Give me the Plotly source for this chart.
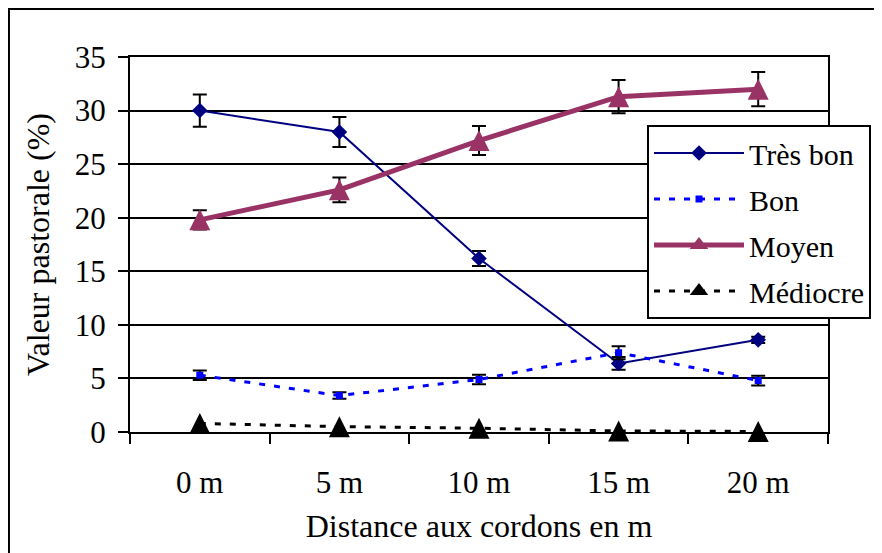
import plotly.graph_objects as go

categories = ["0 m", "5 m", "10 m", "15 m", "20 m"]

tres_bon = [30.0, 28.0, 16.2, 6.4, 8.6]
tres_bon_err = [1.5, 1.4, 0.7, 0.6, 0.3]

bon = [5.3, 3.4, 4.9, 7.4, 4.8]
bon_err = [0.45, 0.3, 0.45, 0.6, 0.45]

moyen = [19.8, 22.6, 27.2, 31.3, 32.0]
moyen_err = [0.9, 1.15, 1.35, 1.55, 1.6]

mediocre = [0.8, 0.5, 0.35, 0.1, 0.05]

y_ticks = [0, 5, 10, 15, 20, 25, 30, 35]

FONT = "Liberation Serif, Times New Roman, serif"
err_style = dict(type="data", color="black", thickness=2, width=7)

TB_COL = "#000080"
BON_COL = "#0000FF"
MOY_COL = "#993366"
MED_COL = "black"

TRI = 21

fig = go.Figure()
fig.add_trace(go.Scatter(
    x=categories, y=tres_bon, name="Très bon", mode="lines+markers",
    legendgroup="a", cliponaxis=False,
    line=dict(color=TB_COL, width=2),
    marker=dict(symbol="diamond", size=12, color=TB_COL),
    error_y=dict(array=tres_bon_err, **err_style),
))
fig.add_trace(go.Scatter(
    x=categories, y=bon, name="Bon", mode="lines+markers",
    legendgroup="b", cliponaxis=False,
    line=dict(color=BON_COL, width=3, dash="6px,9px"),
    marker=dict(symbol="square", size=7, color=BON_COL),
    error_y=dict(array=bon_err, **err_style),
))
fig.add_trace(go.Scatter(
    x=categories, y=moyen, name="Moyen", mode="lines+markers",
    legendgroup="c", showlegend=False, cliponaxis=False,
    line=dict(color=MOY_COL, width=5),
    marker=dict(symbol="arrow-down", angle=180, standoff=TRI / 2, size=TRI, color=MOY_COL),
    error_y=dict(array=moyen_err, **err_style),
))
fig.add_trace(go.Scatter(
    x=[None], y=[None], name="Moyen", mode="lines+markers",
    legendgroup="c", showlegend=True,
    line=dict(color=MOY_COL, width=5),
    marker=dict(symbol="triangle-up", size=18, color=MOY_COL),
))
fig.add_trace(go.Scatter(
    x=categories, y=mediocre, name="Médiocre", mode="lines+markers",
    legendgroup="d", showlegend=False, cliponaxis=False,
    line=dict(color=MED_COL, width=3, dash="6px,9px"),
    marker=dict(symbol="arrow-down", angle=180, standoff=TRI / 2, size=TRI, color=MED_COL),
))
fig.add_trace(go.Scatter(
    x=[None], y=[None], name="Médiocre", mode="lines+markers",
    legendgroup="d", showlegend=True,
    line=dict(color=MED_COL, width=3, dash="6px,9px"),
    marker=dict(symbol="triangle-up", size=18, color=MED_COL),
))

fig.update_layout(
    width=874, height=545,
    margin=dict(l=122, r=54, t=49, b=121, autoexpand=False),
    paper_bgcolor="white", plot_bgcolor="white",
    font=dict(family=FONT, size=31, color="black"),
    showlegend=True,
    legend=dict(
        x=0.7407, y=0.8187, xanchor="left", yanchor="top",
        bgcolor="white", bordercolor="black", borderwidth=2,
        font=dict(family=FONT, size=30, color="black"),
        itemwidth=90, tracegroupgap=4, traceorder="grouped",
    ),
    xaxis=dict(
        type="category", range=[-0.5, 4.5], showgrid=False, automargin=False,
        showline=True, linecolor="black", linewidth=2, mirror=True,
        ticks="outside", tickson="boundaries", ticklen=10, tickwidth=2, tickcolor="black",
        ticklabelstandoff=22,
        title=dict(text="Distance aux cordons en m", font=dict(family=FONT, size=32), standoff=15),
    ),
    yaxis=dict(
        range=[0, 35], tickvals=y_ticks, showgrid=True, gridcolor="black", gridwidth=2,
        zeroline=False, automargin=False,
        showline=True, linecolor="black", linewidth=2, mirror=True,
        ticks="outside", ticklen=10, tickwidth=2, tickcolor="black",
        ticklabelstandoff=6,
        title=dict(text="Valeur pastorale (%)", font=dict(family=FONT, size=32), standoff=16),
    ),
    shapes=[dict(
        type="rect", xref="paper", yref="paper",
        x0=-0.1734, x1=1.085, y0=-0.4, y1=1.128,
        line=dict(color="black", width=2), fillcolor="rgba(0,0,0,0)", layer="above",
    )],
)

fig.write_html("out.html")
